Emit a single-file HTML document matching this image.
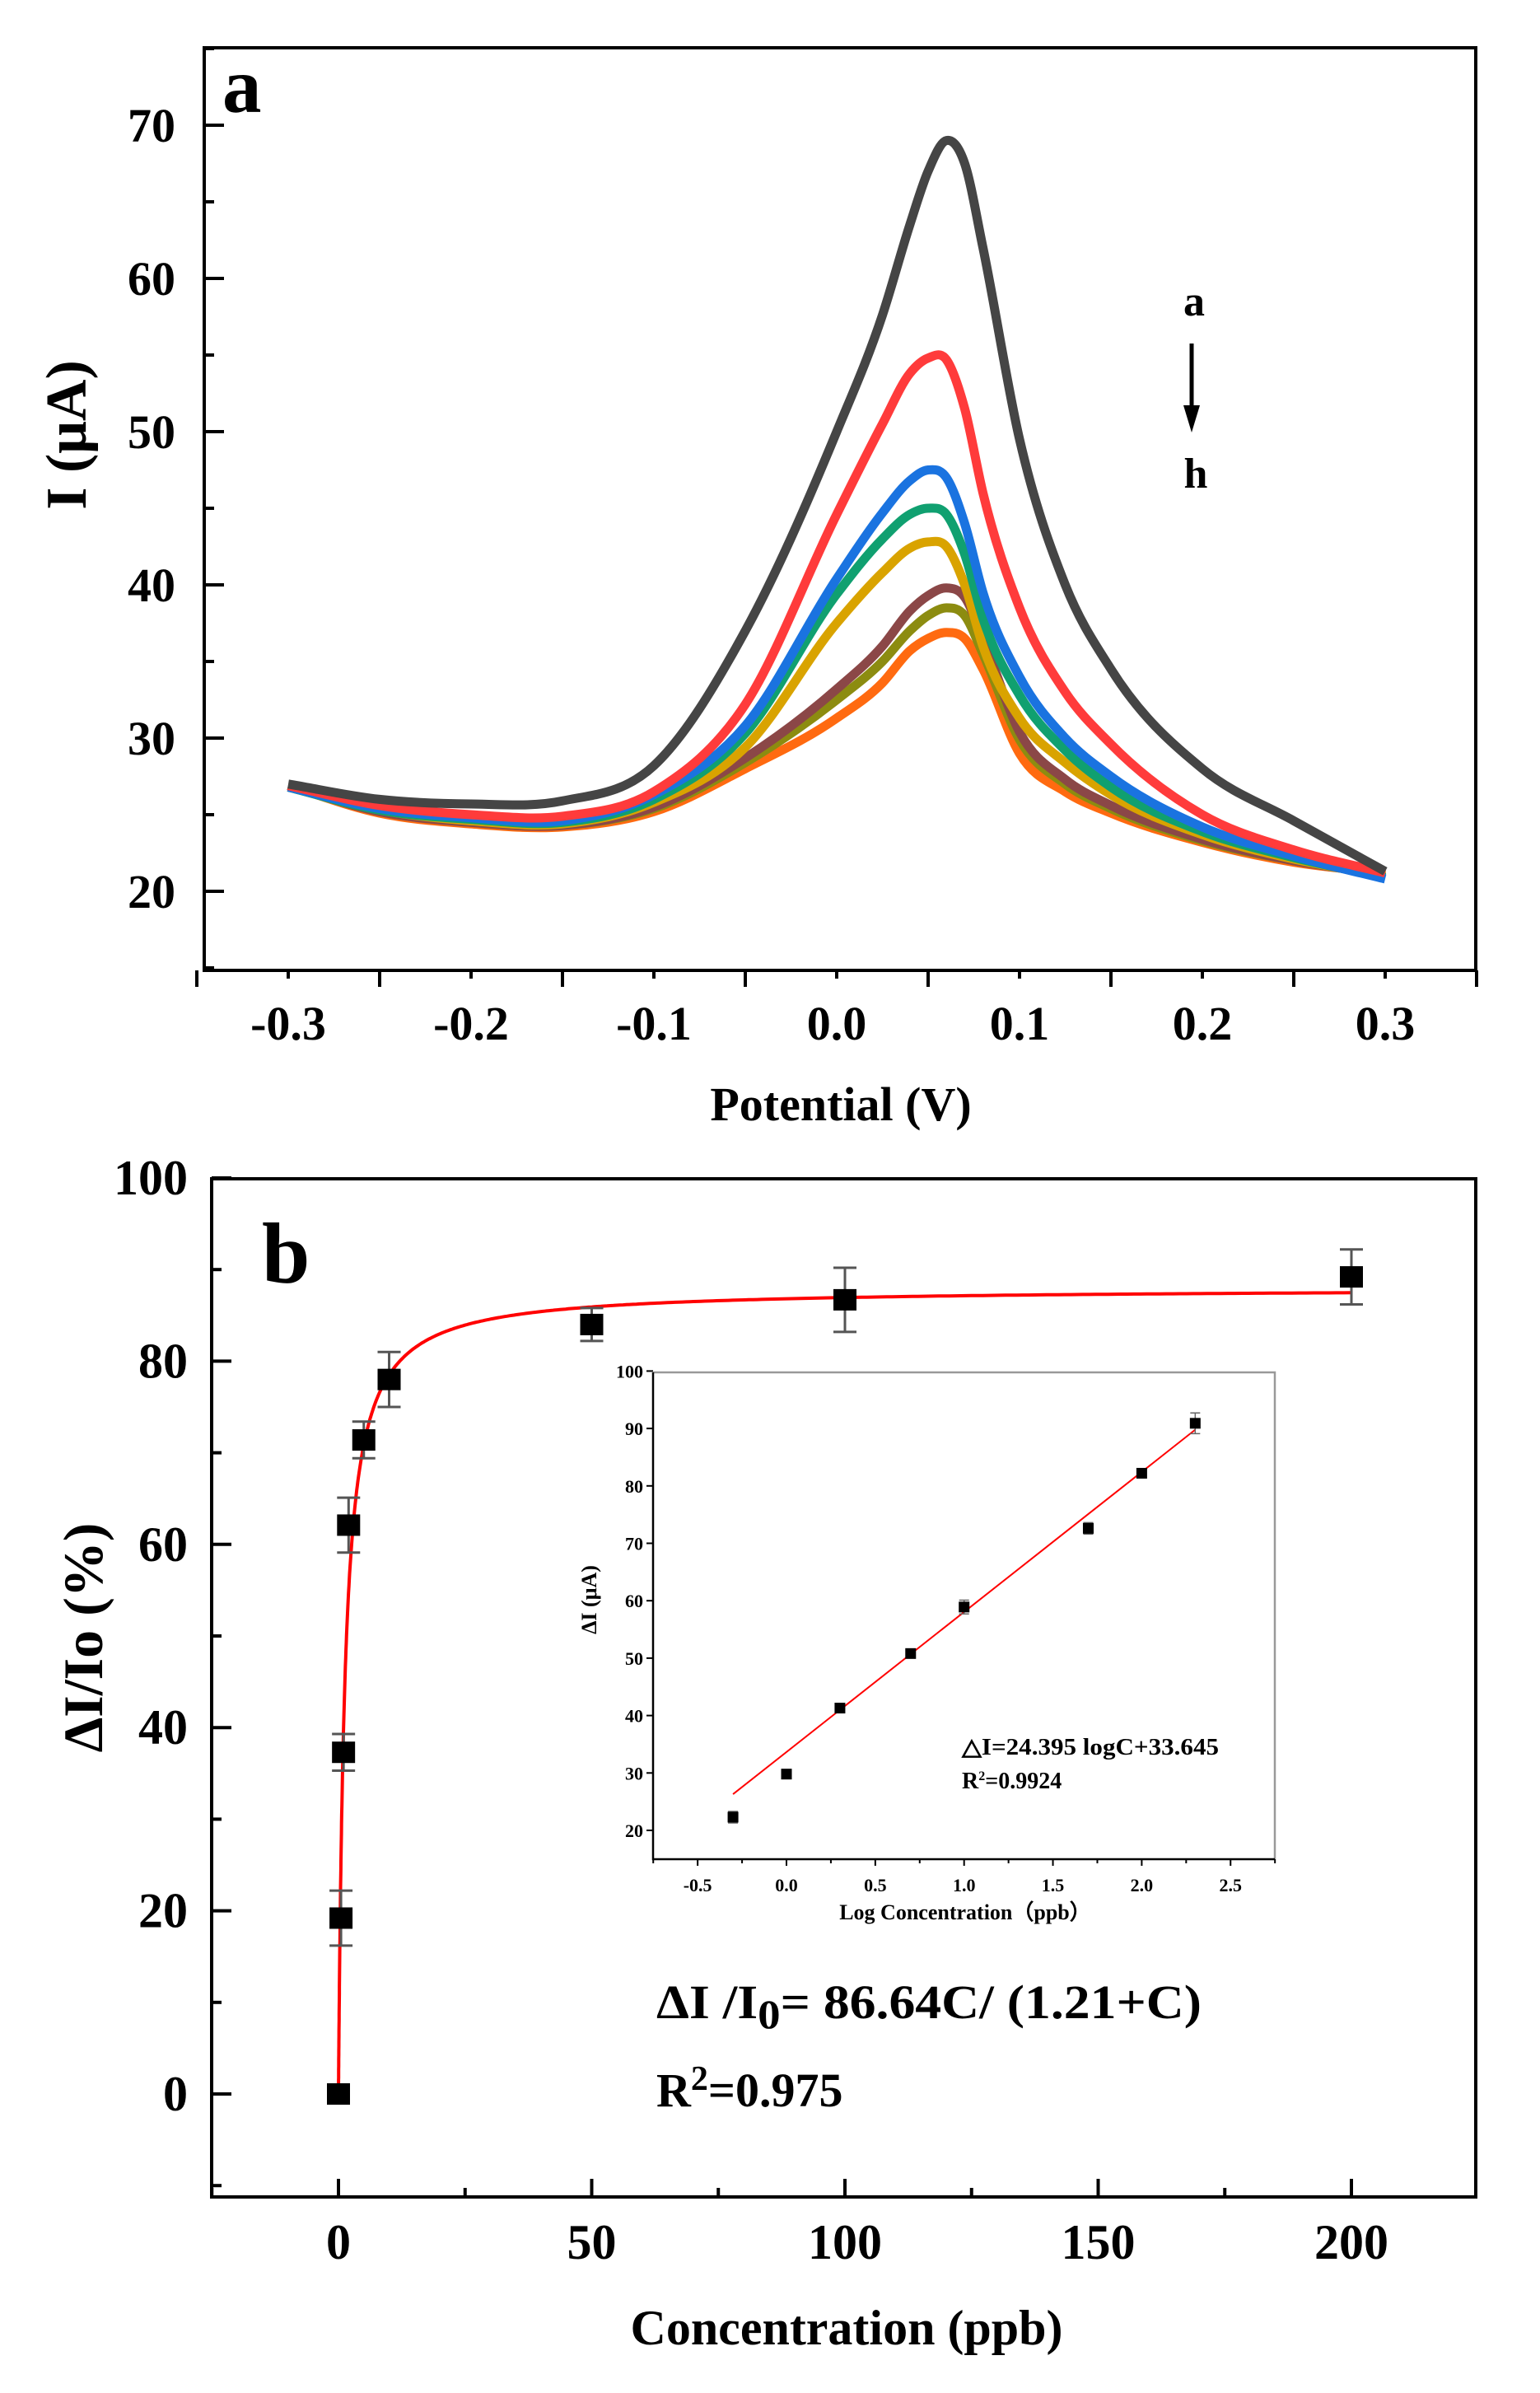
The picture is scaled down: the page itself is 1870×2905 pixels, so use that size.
<!DOCTYPE html>
<html><head><meta charset="utf-8"><style>
html,body{margin:0;padding:0;background:#fff;}
svg{display:block;}
text{font-family:"Liberation Serif",serif;font-weight:bold;fill:#000;}
</style></head>
<body>
<svg id="fig" width="1870" height="2905" viewBox="0 0 1870 2905" xmlns="http://www.w3.org/2000/svg">
<g id="pa"></g>
<g id="pb"></g>
<g id="pi"></g>
</svg>
<script>
// ---------- Panel a data ----------
const potentials = [-0.3,-0.25,-0.2,-0.15,-0.1,-0.05,0,0.025,0.04,0.05,0.06,0.07,0.08,0.1,0.125,0.15,0.2,0.25,0.3];
const curveA = [27.0,26.0,25.7,25.9,28.2,37,50,57.6,63.5,67,69,67.5,62,49.5,40,34.5,28,24.6,21.3];
const curveB = [26.9,25.6,25.0,24.9,26.5,32.2,44.6,50.5,53.8,54.8,54.7,51.5,46,38.5,33,29.6,25,22.7,21.2];
const curveC = [26.8,25.4,24.8,24.6,26.3,30.8,40.4,44.7,46.8,47.5,47.0,44,39.5,34,30,27.5,24.2,22.3,20.8];
const curveD = [26.8,25.3,24.7,24.5,26.0,30.3,39.4,43,44.6,45,44.6,42,37.8,32.8,29.2,26.8,23.9,22.2,20.9];
const curveE = [26.8,25.3,24.6,24.4,25.8,29.4,37.5,40.8,42.4,42.8,42.5,40,36,31.3,28.4,26.3,23.7,22.1,21.0];
const curveF = [26.9,25.2,24.5,24.3,25.5,28.7,33.2,36,38.3,39.3,39.8,39.2,36.5,30.4,27.3,25.6,23.4,22.0,21.1];
const curveG = [26.9,25.2,24.5,24.3,25.4,28.4,32.5,35,37,38,38.5,38.0,35.5,29.9,27.0,25.4,23.3,22.0,21.1];
const curveH = [26.9,25.1,24.4,24.2,25.2,28.0,31.3,33.6,35.7,36.5,36.9,36.5,34.5,29.0,26.5,25.1,23.2,21.9,21.2];
const curveColors = ['#454545','#ff3b3b','#1a73e0','#10a070','#d9a300','#8b4747','#8c8c10','#ff6a10'];
const xTicksA = [-0.3,-0.2,-0.1,0.0,0.1,0.2,0.3];
const xTickLabelsA = ['-0.3','-0.2','-0.1','0.0','0.1','0.2','0.3'];
const yTicksA = [20,30,40,50,60,70];

// ---------- Panel b data ----------
const concentrations = [0,0.5,1,2,5,10,50,100,200];
const responses = [0,19.2,37.3,62.1,71.4,78,84,86.7,89.2];
const respErrors = [0,3,2,3,2,3,1.8,3.5,3];
const fitVmax = [88.0];
const fitK = [1.21];
const xTicksB = [0,50,100,150,200];
const yTicksB = [0,20,40,60,80,100];

// ---------- Inset data ----------
const logConc = [-0.301,0,0.301,0.699,1,1.699,2,2.301];
const deltaI = [22.3,29.8,41.3,50.8,58.9,72.6,82.2,90.9];
const deltaErr = [1.0,0.8,0.8,0.7,1.2,1.0,0.8,1.8];
const linSlope = [24.395];
const linIntercept = [33.645];
const xTicksI = [-0.5,0.0,0.5,1.0,1.5,2.0,2.5];
const xTickLabelsI = ['-0.5','0.0','0.5','1.0','1.5','2.0','2.5'];
const yTicksI = [20,30,40,50,60,70,80,90,100];

const NS='http://www.w3.org/2000/svg';
function mk(parent,tag,attrs){const e=document.createElementNS(NS,tag);for(const k in attrs)e.setAttribute(k,attrs[k]);parent.appendChild(e);return e;}
function txt(parent,x,y,s,size,anchor,extra){const t=mk(parent,'text',Object.assign({x:x,y:y,'font-size':size,'text-anchor':anchor||'middle'},extra||{}));t.textContent=s;return t;}
// Cubic Hermite in x (handles uneven spacing)
function smoothPath(pts){
 const n=pts.length;const m=[];
 for(let i=0;i<n;i++){
  if(i===0)m.push((pts[1][1]-pts[0][1])/(pts[1][0]-pts[0][0]));
  else if(i===n-1)m.push((pts[n-1][1]-pts[n-2][1])/(pts[n-1][0]-pts[n-2][0]));
  else{const d1=(pts[i][1]-pts[i-1][1])/(pts[i][0]-pts[i-1][0]),d2=(pts[i+1][1]-pts[i][1])/(pts[i+1][0]-pts[i][0]);
   const h1=pts[i][0]-pts[i-1][0],h2=pts[i+1][0]-pts[i][0];
   m.push((d1*h2+d2*h1)/(h1+h2));}
 }
 let d='M'+pts[0][0].toFixed(1)+','+pts[0][1].toFixed(1);
 for(let i=0;i<n-1;i++){const h=pts[i+1][0]-pts[i][0];
  const c1=[pts[i][0]+h/3,pts[i][1]+m[i]*h/3],c2=[pts[i+1][0]-h/3,pts[i+1][1]-m[i+1]*h/3];
  d+=' C'+c1[0].toFixed(1)+','+c1[1].toFixed(1)+' '+c2[0].toFixed(1)+','+c2[1].toFixed(1)+' '+pts[i+1][0].toFixed(1)+','+pts[i+1][1].toFixed(1);}
 return d;}

// ===== Panel a =====
(function(){
 const g=document.getElementById('pa');
 const L=248,R=1792,T=58,B=1178;
 const xs=v=>1016+v*2220; const ys=v=>152+(70-v)*18.6;
 const curves=[curveA,curveB,curveC,curveD,curveE,curveF,curveG,curveH];
 const names=['a','b','c','d','e','f','g','h'];
 for(let c=curves.length-1;c>=0;c--){
  const pts=potentials.map((p,i)=>[xs(p),ys(curves[c][i])]);
  const path=mk(g,'path',{d:smoothPath(pts),fill:'none',stroke:curveColors[c],'stroke-width':11,'stroke-linejoin':'round'});
  
  
 }
 const frame=mk(g,'rect',{x:L,y:T,width:R-L,height:B-T,fill:'none',stroke:'#000','stroke-width':4});
 
 
 for(let v=15;v<=75;v+=5){const y=ys(v);const major=yTicksA.includes(v);
  mk(g,'line',{x1:L,x2:L+(major?24:12),y1:y,y2:y,stroke:'#000','stroke-width':4});}
 yTicksA.forEach(v=>{const t=txt(g,213,ys(v)+20,String(v),58,'end');
  
  });
 for(let k=-7;k<=7;k++){const v=k*0.05;const x=xs(v);const major=k%2!==0;
  mk(g,'line',{x1:x,x2:x,y1:B,y2:B+(major?20:10),stroke:'#000','stroke-width':4});}
 xTicksA.forEach((v,i)=>{const t=txt(g,xs(v),1262,xTickLabelsA[i],58,'middle');
  
  });
 const xt=txt(g,1021,1360,'Potential (V)',58,'middle');
 
 
 const yt=txt(g,0,0,'I (μA)',70,'middle',{transform:'translate(104,528) rotate(-90)'});
 
 
 const pl=txt(g,270,136,'a',95,'start');
 
 
 const a1=txt(g,1450,383,'a',52,'middle');
 
 
 const ar=mk(g,'line',{x1:1447,x2:1447,y1:417,y2:500,stroke:'#000','stroke-width':5});
 
 
 mk(g,'polygon',{points:'1437,492 1457,492 1447,525',fill:'#000'});
 const a2=txt(g,1452,592,'h',52,'middle');
 
 
})();

// ===== Panel b =====
(function(){
 const g=document.getElementById('pb');
 const L=257,R=1792,T=1431,B=2667;
 const xs=v=>411+v*6.15; const ys=v=>2542-v*11.12;
 const fpts=[];for(let i=0;i<=400;i++){const c=Math.pow(i/400,3)*200;fpts.push([xs(c),ys(fitVmax[0]*c/(fitK[0]+c))]);}
 const fc=mk(g,'path',{d:'M'+fpts.map(p=>p[0].toFixed(1)+','+p[1].toFixed(1)).join(' L'),fill:'none',stroke:'#ff0000','stroke-width':4});
 
 
 concentrations.forEach((c,i)=>{
  const x=xs(c),y=ys(responses[i]);
  if(respErrors[i]>0){const y1=ys(responses[i]+respErrors[i]),y2=ys(responses[i]-respErrors[i]);
   const eb=mk(g,'path',{d:`M${x},${y1} V${y2} M${x-14},${y1} H${x+14} M${x-14},${y2} H${x+14}`,stroke:'#555','stroke-width':3,fill:'none'});
   
   }
  const m=mk(g,'rect',{x:x-14,y:y-13,width:28,height:26,fill:'#000'});
  
  
 });
 const frame=mk(g,'rect',{x:L,y:T,width:R-L,height:B-T,fill:'none',stroke:'#000','stroke-width':4});
 
 
 for(let v=-10;v<=100;v+=10){const y=ys(v);const major=yTicksB.includes(v);
  mk(g,'line',{x1:L,x2:L+(major?24:12),y1:y,y2:y,stroke:'#000','stroke-width':4});}
 yTicksB.forEach(v=>{const t=txt(g,228,ys(v)+20,String(v),60,'end');
  
  });
 for(let v=-25;v<=225;v+=25){const x=xs(v);if(x<L||x>R)continue;const major=xTicksB.includes(v);
  mk(g,'line',{x1:x,x2:x,y1:B,y2:B-(major?22:11),stroke:'#000','stroke-width':4});}
 xTicksB.forEach(v=>{const t=txt(g,xs(v),2742,String(v),60,'middle');
  
  });
 const xt=txt(g,1028,2846,'Concentration (ppb)',60,'middle');
 
 
 const yt=txt(g,0,0,'ΔI/Io (%)',68,'middle',{transform:'translate(124,1988) rotate(-90)'});
 
 
 const pl=txt(g,318,1557,'b',105,'start');
 
 
 const eq=mk(g,'text',{x:797,y:2450,'font-size':58,textLength:662,lengthAdjust:'spacingAndGlyphs'});
 eq.innerHTML='ΔI /I<tspan dy="12" font-size="50">0</tspan><tspan dy="-12">= 86.64C/ (1.21+C)</tspan>';
 
 
 const r2=mk(g,'text',{x:797,y:2557,'font-size':58});
 r2.innerHTML='R<tspan dy="-20" font-size="42">2</tspan><tspan dy="20">=0.975</tspan>';
 
 
})();

// ===== Inset =====
(function(){
 const g=document.getElementById('pi');
 const L=793,R=1548,T=1666,B=2257;
 const xs=v=>955+v*215.7; const ys=v=>2222-(v-20)*6.97;
 mk(g,'rect',{x:L,y:T,width:R-L,height:B-T,fill:'#fff',stroke:'none'});
 const lx0=logConc[0],lx1=logConc[logConc.length-1];
 const ln=mk(g,'line',{x1:xs(lx0),y1:ys(linSlope[0]*lx0+linIntercept[0]),x2:xs(lx1),y2:ys(linSlope[0]*lx1+linIntercept[0]),stroke:'#ff0000','stroke-width':2});
 
 
 logConc.forEach((c,i)=>{const x=xs(c),y=ys(deltaI[i]);
  const y1=ys(deltaI[i]+deltaErr[i]),y2=ys(deltaI[i]-deltaErr[i]);
  const eb=mk(g,'path',{d:`M${x},${y1} V${y2} M${x-6},${y1} H${x+6} M${x-6},${y2} H${x+6}`,stroke:'#666','stroke-width':1.5,fill:'none'});
  
  
  const m=mk(g,'rect',{x:x-6.5,y:y-6.5,width:13,height:13,fill:'#000'});
  
  });
 mk(g,'path',{d:`M${L},${T} H${R} V${B}`,fill:'none',stroke:'#999','stroke-width':2.5});
 mk(g,'path',{d:`M${L},${T} V${B} H${R}`,fill:'none',stroke:'#000','stroke-width':2.5});
 yTicksI.forEach(v=>{const y=ys(v);mk(g,'line',{x1:L-8,x2:L,y1:y,y2:y,stroke:'#000','stroke-width':2});
  const t=txt(g,L-12,y+8,String(v),22,'end');
  
  });
 for(let v=-0.75;v<=2.76;v+=0.25){const x=xs(v);const major=Math.abs(v*2-Math.round(v*2))<1e-6;
  mk(g,'line',{x1:x,x2:x,y1:B,y2:B+(major?8:5),stroke:'#000','stroke-width':2});}
 xTicksI.forEach((v,i)=>{const t=txt(g,xs(v),2296,xTickLabelsI[i],22,'middle');
  
  });
 const xt=txt(g,1172,2330,'Log Concentration（ppb）',26,'middle',{'font-family':'"Liberation Serif","Noto Serif CJK SC",serif'});
 
 
 const yt=txt(g,0,0,'ΔI (μA)',26,'middle',{transform:'translate(724,1942) rotate(-90)'});
 
 
 const eq=txt(g,1168,2130,'△I=24.395 logC+33.645',28,'start',{textLength:312,lengthAdjust:'spacingAndGlyphs'});
 
 
 const r2=mk(g,'text',{x:1168,y:2171,'font-size':28});
 r2.innerHTML='R<tspan dy="-10" font-size="16">2</tspan><tspan dy="10">=0.9924</tspan>';
 
 
})();
</script>
</body></html>
